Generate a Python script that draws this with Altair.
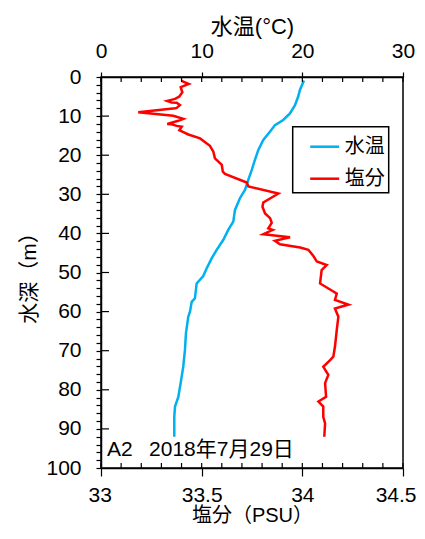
import altair as alt
import pandas as pd

FONT = "Liberation Sans, Noto Sans CJK JP"

# Water temperature profile (deg C) vs depth (m)
temp_depth = [0.9, 3.3, 5.0, 7.2, 9.3, 11.0, 12.3, 14.0, 16.1, 18.7, 21.2, 23.8, 26.3,
              28.9, 31.0, 34.0, 37.0, 39.1, 41.7, 44.2, 46.4, 48.9, 50.9, 52.8, 56.6,
              57.5, 60.0, 61.3, 65.5, 69.8, 74.1, 78.3, 81.8, 84.3, 86.9, 92.0]
temp_values = [20.16, 19.76, 19.59, 19.27, 18.77, 18.10, 17.28, 16.78, 16.12, 15.62,
               15.29, 14.97, 14.63, 14.30, 13.80, 13.31, 13.14, 12.64, 12.14, 11.49,
               10.99, 10.50, 10.16, 9.50, 9.33, 9.01, 8.84, 8.67, 8.44, 8.34, 8.17,
               7.91, 7.68, 7.35, 7.28, 7.28]

# Salinity profile (PSU) vs depth (m)
sal_depth = [1.0, 1.8, 2.6, 3.9, 5.0, 5.6, 6.1, 6.5, 6.6, 7.2, 7.9, 8.0, 9.0, 9.9, 10.7,
             11.2, 12.0, 12.1, 12.5, 12.7, 13.6, 14.1, 14.7, 15.7, 17.6, 19.1, 20.8,
             22.5, 24.2, 24.8, 27.0, 28.0, 29.8, 32.1, 33.2, 34.9, 36.1, 37.3, 38.7,
             39.1, 40.2, 41.0, 41.9, 42.8, 43.6, 44.2, 45.8, 47.2, 48.1, 49.4, 52.8,
             54.6, 55.4, 57.0, 58.2, 59.2, 61.3, 64.7, 69.0, 71.5, 72.4, 74.1, 76.2,
             78.3, 81.8, 83.0, 84.3, 86.9, 88.6, 92.0]
sal_values = [33.400, 33.436, 33.396, 33.404, 33.389, 33.368, 33.329, 33.351, 33.376,
              33.392, 33.376, 33.368, 33.185, 33.359, 33.409, 33.384, 33.329, 33.351,
              33.376, 33.401, 33.389, 33.409, 33.434, 33.492, 33.541, 33.558, 33.566,
              33.600, 33.605, 33.616, 33.724, 33.732, 33.881, 33.806, 33.802, 33.815,
              33.840, 33.848, 33.831, 33.853, 33.806, 33.939, 33.864, 33.889, 33.989,
              34.030, 34.055, 34.072, 34.121, 34.096, 34.088, 34.146, 34.171, 34.162,
              34.229, 34.162, 34.179, 34.171, 34.162, 34.154, 34.138, 34.104, 34.129,
              34.113, 34.118, 34.080, 34.104, 34.104, 34.113, 34.109]

series_names = ["水温", "塩分"]
series_colors = ["#00B0F0", "#FF0000"]

temp_ticks = list(range(0, 31, 2))
temp_major = [0, 10, 20, 30]
sal_ticks = [round(33 + 0.1 * k, 1) for k in range(16)]
sal_major = [33, 33.5, 34, 34.5]
depth_ticks = list(range(0, 101, 2))
depth_major = [10, 20, 30, 40, 50, 60, 70, 80, 90]

annotation = "A2 \u20022018年7月29日"
ann_sal = 33.03
ann_depth = 95.4

W, H = 302, 391

temp_df = pd.DataFrame({"T": temp_values, "D": temp_depth, "series": series_names[0],
                        "i": range(len(temp_values))})
sal_df = pd.DataFrame({"S": sal_values, "D": sal_depth, "series": series_names[1],
                       "i": range(len(sal_values))})

temp_scale = alt.Scale(domain=[0, 30], nice=False, zero=False)
sal_scale = alt.Scale(domain=[33, 34.5], nice=False, zero=False)
depth_scale = alt.Scale(domain=[0, 100], reverse=True, nice=False, zero=False)

depth_axis = alt.Axis(orient="left", values=depth_ticks,
                      labelExpr="datum.value % 10 == 0 ? datum.label : ''",
                      title="水深（m）", tickSize=5, labelPadding=15, titlePadding=6,
                      grid=False)

color_enc = alt.Color("series:N",
                      scale=alt.Scale(domain=series_names, range=series_colors),
                      legend=alt.Legend(orient="none", legendX=191.7, legendY=49.7, title=None,
                                        symbolType="stroke", symbolSize=841,
                                        symbolStrokeWidth=2.5, symbolOffset=12,
                                        labelFontSize=20, labelFont=FONT, labelOffset=4,
                                        labelExpr="datum.label + '\u2002'",
                                        strokeColor="black", fillColor="white",
                                        padding=4, rowPadding=6))

temp_line = alt.Chart(temp_df).mark_line(strokeWidth=2.5).encode(
    x=alt.X("T:Q", scale=temp_scale,
            axis=alt.Axis(orient="top", values=temp_major, title="水温(°C)", tickSize=5,
                          labelPadding=11, titlePadding=2, grid=False, labelFlush=False,
                          titleFontSize=22)),
    y=alt.Y("D:Q", scale=depth_scale, axis=depth_axis),
    color=color_enc,
    order="i:Q",
)

sal_line = alt.Chart(sal_df).mark_line(strokeWidth=2.5).encode(
    x=alt.X("S:Q", scale=sal_scale,
            axis=alt.Axis(orient="bottom", values=sal_major, title="塩分（PSU）", tickSize=8,
                          labelPadding=8, titlePadding=0, grid=False, labelFlush=True,
                          labelFlushOffset=13, format=".1~f", titleFontSize=20)),
    y=alt.Y("D:Q", scale=depth_scale, axis=depth_axis),
    color=color_enc,
    order="i:Q",
)

top_ticks = alt.Chart(pd.DataFrame({"v": temp_ticks})).mark_rule(color="black", strokeWidth=1.2).encode(
    x=alt.X("v:Q", scale=temp_scale, axis=None),
    y=alt.value(0), y2=alt.value(5),
)

bottom_ticks = alt.Chart(pd.DataFrame({"v": sal_ticks})).mark_rule(color="black", strokeWidth=1.2).encode(
    x=alt.X("v:Q", scale=sal_scale, axis=None),
    y=alt.value(H - 5), y2=alt.value(H),
)

left_ticks = alt.Chart(pd.DataFrame({"D": depth_major})).mark_rule(color="black", strokeWidth=1.2).encode(
    y=alt.Y("D:Q", scale=depth_scale, axis=depth_axis),
    x=alt.value(0), x2=alt.value(8),
)

label = alt.Chart(pd.DataFrame({"s": [ann_sal], "D": [ann_depth], "t": [annotation]})).mark_text(
    align="left", baseline="middle", fontSize=21, font=FONT, color="black"
).encode(
    x=alt.X("s:Q", scale=sal_scale, axis=None),
    y=alt.Y("D:Q", scale=depth_scale, axis=depth_axis),
    text="t:N",
)

chart = alt.layer(
    temp_line, sal_line, top_ticks, bottom_ticks, left_ticks, label
).resolve_scale(
    x="independent", y="shared"
).resolve_axis(
    x="independent", y="shared"
).properties(
    width=W, height=H,
    autosize=alt.AutoSizeParams(type="none"),
    padding={"left": 93, "top": 69, "right": 14, "bottom": 59},
).configure_view(
    stroke="black", strokeWidth=1.5
).configure_axis(
    labelFont=FONT, titleFont=FONT, labelFontSize=21, titleFontSize=21,
    titleFontWeight="normal", labelColor="black", titleColor="black",
    domainColor="black", tickColor="black", domainWidth=1.5, tickWidth=1.2,
).configure_legend(
    strokeWidth=1.5
)

chart.save("out.html", embed_options={"renderer": "svg", "actions": False})
